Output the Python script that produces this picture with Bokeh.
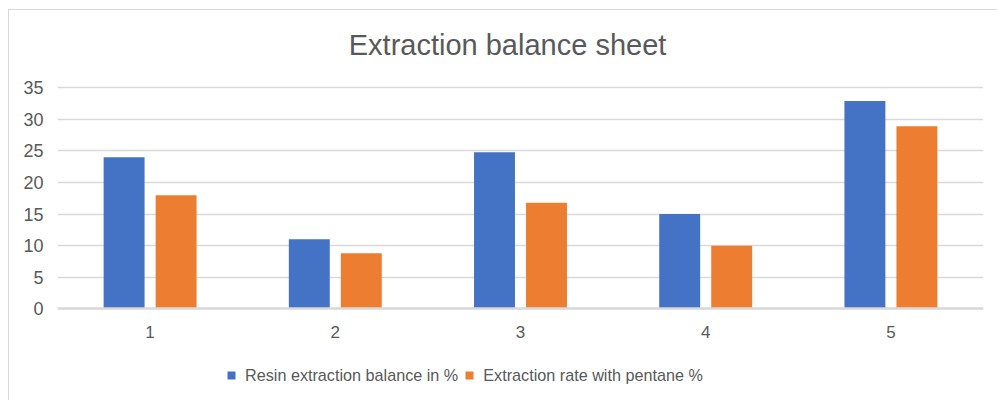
from bokeh.plotting import figure
from bokeh.models import ColumnDataSource, Range1d, FixedTicker, Legend, LegendItem, Label
from bokeh.transform import dodge
from bokeh.embed import file_html
from bokeh.resources import INLINE

categories = [1, 2, 3, 4, 5]
tick_labels = ["1", "2", "3", "4", "5"]
resin_balance = [24, 11, 24.8, 15, 32.9]
pentane_rate = [18, 8.8, 16.8, 10, 28.9]
series_names = ["Resin extraction balance in %", "Extraction rate with pentane %"]
colors = ["#4472C4", "#ED7D31"]
title_text = "Extraction balance sheet"

src = ColumnDataSource(dict(x=categories, a=resin_balance, b=pentane_rate))

FONT = "Liberation Sans"
TXT = "#595959"
GRID = "#d9d9d9"

# frame spans the whole figure height; value axis 0..35 sits inside it
p = figure(width=989, height=391, output_backend="svg", toolbar_location=None,
           x_range=Range1d(0.5, 5.5), y_range=Range1d(-14.68, 47.24),
           min_border_left=48, min_border_right=15, min_border_top=0, min_border_bottom=0)
p.styles = {"margin-left": "8px", "margin-top": "9px",
            "border-left": "1px solid #d9d9d9", "border-top": "1px solid #d9d9d9"}
p.outline_line_color = None
p.background_fill_color = "white"
p.border_fill_color = "white"

p.add_layout(Label(x=2.93, y=41.7, text=title_text, text_align="center",
                   text_baseline="alphabetic", text_font=FONT, text_font_size="29px",
                   text_color=TXT))

w = 0.221
r1 = p.vbar(x=dodge("x", -0.1404, range=p.x_range), top="a", width=w, source=src,
            fill_color=colors[0], line_color=None)
r2 = p.vbar(x=dodge("x", 0.1404, range=p.x_range), top="b", width=w, source=src,
            fill_color=colors[1], line_color=None)

p.xgrid.grid_line_color = None
p.ygrid.grid_line_color = GRID
p.ygrid.grid_line_width = 1.5
p.yaxis.ticker = FixedTicker(ticks=[0, 5, 10, 15, 20, 25, 30, 35])
p.xaxis.ticker = FixedTicker(ticks=categories)
p.xaxis.major_label_overrides = {c: t for c, t in zip(categories, tick_labels)}
p.xaxis.fixed_location = 0

for ax in (p.xaxis[0], p.yaxis[0]):
    ax.major_tick_line_color = None
    ax.minor_tick_line_color = None
    ax.major_tick_out = 0
    ax.major_tick_in = 0
    ax.major_label_text_font = FONT
    ax.major_label_text_color = TXT
p.yaxis.axis_line_color = None
p.yaxis.major_label_text_font_size = "18px"
p.yaxis.major_label_standoff = 14
p.xaxis.axis_line_color = GRID
p.xaxis.axis_line_width = 2.5
p.xaxis.major_label_text_font_size = "17px"
p.xaxis.major_label_standoff = 17

legend = Legend(items=[LegendItem(label=series_names[0], renderers=[r1]),
                       LegendItem(label=series_names[1], renderers=[r2])],
                orientation="horizontal", location=(169, 16.5),
                padding=0, margin=0, spacing=6, label_standoff=9,
                glyph_width=10, glyph_height=10, label_height=13,
                label_text_font=FONT, label_text_font_size="16.2px", label_text_color=TXT,
                border_line_color=None, background_fill_alpha=0)
p.add_layout(legend, "center")

open("out.html", "w").write(file_html(p, INLINE))
